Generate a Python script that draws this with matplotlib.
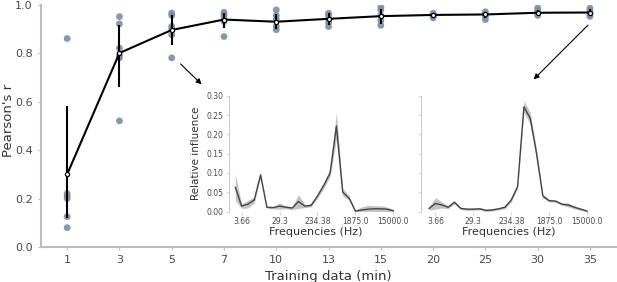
import matplotlib
matplotlib.use("Agg")
import matplotlib.pyplot as plt
import numpy as np

plt.rcParams['font.family'] = ['DejaVu Sans']

# training data amounts (min) and per-fold correlations
minutes = ['1', '3', '5', '7', '10', '13', '15', '20', '25', '30', '35']
folds = [
    [0.86, 0.22, 0.21, 0.20, 0.125, 0.08],
    [0.95, 0.92, 0.82, 0.79, 0.78, 0.52],
    [0.965, 0.955, 0.91, 0.90, 0.875, 0.78],
    [0.968, 0.958, 0.945, 0.93, 0.868],
    [0.978, 0.955, 0.94, 0.91, 0.896],
    [0.964, 0.955, 0.941, 0.925, 0.909],
    [0.989, 0.978, 0.955, 0.934, 0.914],
    [0.964, 0.958, 0.952, 0.945],
    [0.97, 0.96, 0.95, 0.938],
    [0.986, 0.975, 0.965, 0.955],
    [0.985, 0.975, 0.965, 0.958, 0.951],
]
mean_r = [0.30, 0.80, 0.895, 0.938, 0.929, 0.941, 0.952, 0.957, 0.959, 0.966, 0.967]
err_lo = [0.12, 0.66, 0.835, 0.905, 0.90, 0.915, 0.92, 0.945, 0.945, 0.955, 0.955]
err_hi = [0.58, 0.915, 0.955, 0.967, 0.96, 0.965, 0.98, 0.965, 0.97, 0.978, 0.98]

# relative influence of frequency bands (inset curves)
freq_ticks = ['3.66', '29.3', '234.38', '1875.0', '15000.0']
freq_tick_idx = [1, 7, 13, 19, 25]
infl_5 = [0.063, 0.014, 0.019, 0.030, 0.095, 0.011, 0.010, 0.014, 0.011, 0.009,
          0.026, 0.014, 0.016, 0.040, 0.068, 0.100, 0.222, 0.050, 0.035, 0.001,
          0.004, 0.006, 0.007, 0.007, 0.006, 0.002]
spread_5 = [0.035, 0.006, 0.010, 0.008, 0.006, 0.003, 0.003, 0.008, 0.004, 0.004,
            0.018, 0.004, 0.004, 0.006, 0.008, 0.010, 0.035, 0.010, 0.006, 0.003,
            0.008, 0.010, 0.008, 0.008, 0.006, 0.003]
infl_35 = [0.008, 0.021, 0.017, 0.011, 0.024, 0.008, 0.006, 0.006, 0.007, 0.003,
           0.004, 0.007, 0.011, 0.030, 0.065, 0.272, 0.242, 0.150, 0.040, 0.028,
           0.027, 0.019, 0.017, 0.011, 0.006, 0.001]
spread_35 = [0.005, 0.015, 0.008, 0.004, 0.004, 0.003, 0.003, 0.003, 0.003, 0.003,
             0.003, 0.003, 0.004, 0.005, 0.006, 0.015, 0.015, 0.012, 0.005, 0.003,
             0.003, 0.003, 0.005, 0.004, 0.003, 0.002]

dot_col = '#7a8ea3'
spine_col = '#bdbdbd'
txt_col = '#4a4a4a'

fig = plt.figure(figsize=(6.17, 2.82), dpi=100)
ax = fig.add_axes([0.0665, 0.124, 0.932, 0.86])

xs = np.arange(len(minutes))
for i, vals in enumerate(folds):
    ax.scatter([i] * len(vals), vals, s=24, color=dot_col, alpha=0.9,
               edgecolors='none', zorder=2)
ax.vlines(xs, err_lo, err_hi, color='black', lw=1.5, zorder=3)
ax.plot(xs, mean_r, color='black', lw=1.5, marker='o', ms=3,
        mfc='white', mec='black', mew=0.9, zorder=4)

ax.set_xlim(-0.5, len(minutes) - 0.5)
ax.set_ylim(0, 1.0)
ax.set_xticks(xs)
ax.set_xticklabels(minutes)
ax.set_yticks([0, 0.2, 0.4, 0.6, 0.8, 1.0])
ax.set_yticklabels(['0.0', '0.2', '0.4', '0.6', '0.8', '1.0'])
for s in ['top', 'right']:
    ax.spines[s].set_visible(False)
for s in ['left', 'bottom']:
    ax.spines[s].set_color(spine_col)
    ax.spines[s].set_linewidth(1.5)
ax.tick_params(length=2, color=spine_col, labelsize=8, labelcolor=txt_col, pad=4)
ax.set_xlabel('Training data (min)', fontsize=9.5, color='#333333', labelpad=3)
ax.set_ylabel("Pearson's r", fontsize=9.5, color='#333333')
ax.yaxis.set_label_coords(-0.046, 0.52)

# arrows pointing to the insets
arr = dict(arrowstyle='-|>', color='black', lw=0.8, mutation_scale=8)
ax.annotate('', xy=(2.61, 0.663), xytext=(2.13, 0.763), arrowprops=arr)
ax.annotate('', xy=(8.885, 0.683), xytext=(10.0, 0.923), arrowprops=arr)


def inset(rect, infl, spread, xleft, show_labels):
    a = fig.add_axes(rect)
    idx = np.arange(len(infl))
    lo = np.array(infl) - np.array(spread)
    hi = np.array(infl) + np.array(spread)
    a.fill_between(idx, np.clip(lo, 0, None), hi, color='#c4c4c4', lw=0)
    a.plot(idx, infl, color='#444444', lw=1.0)
    a.set_xlim(xleft, 26.5)
    a.set_ylim(0, 0.30)
    a.set_xticks(freq_tick_idx)
    a.set_xticklabels(freq_ticks)
    a.set_yticks([0, 0.05, 0.10, 0.15, 0.20, 0.25, 0.30])
    if show_labels:
        a.set_yticklabels(['0.00', '0.05', '0.10', '0.15', '0.20', '0.25', '0.30'])
        a.set_ylabel('Relative influence', fontsize=7.5, color='#333333')
    else:
        a.set_yticklabels([])
    a.set_xlabel('Frequencies (Hz)', fontsize=8, color='#333333', labelpad=1)
    for s in ['top', 'right', 'bottom']:
        a.spines[s].set_visible(False)
    a.spines['left'].set_color('#cccccc')
    a.spines['left'].set_linewidth(0.8)
    a.tick_params(length=2, width=0.6, color='#cccccc', labelsize=5.5,
                  labelcolor=txt_col, pad=2)
    a.patch.set_alpha(0)
    return a


inset([0.3711, 0.25, 0.2817, 0.4096], infl_5, spread_5, -1.0, True)
inset([0.6818, 0.25, 0.2851, 0.4096], infl_35, spread_35, -1.34, False)

fig.savefig('out.png', dpi=100)
